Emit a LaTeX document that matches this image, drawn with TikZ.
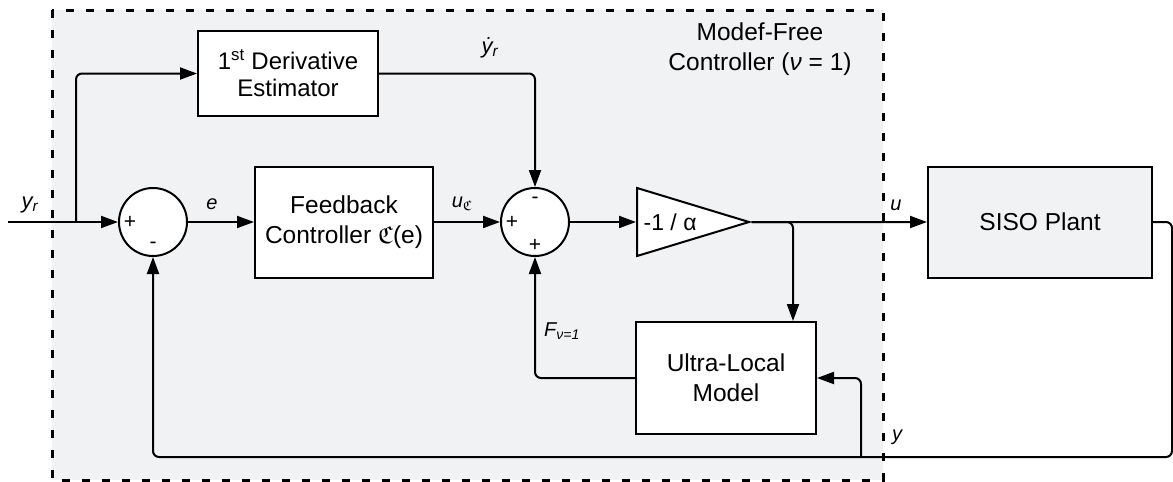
\documentclass[tikz,border=0pt]{standalone}
\usepackage{fontspec}
\setmainfont{Liberation Sans}
\usepackage{amssymb}
\usetikzlibrary{arrows.meta,shapes.geometric,calc}
\definecolor{panel}{HTML}{F1F2F4}

\begin{document}
\begin{tikzpicture}[x=1pt,y=-1pt,line width=2pt,
  blk/.style={draw,fill=white,align=center,inner sep=0pt,font=\fontsize{24.5}{30}\selectfont},
  sum/.style={draw,fill=white,circle,minimum size=68pt,inner sep=0pt},
  gainbox/.style={draw,fill=white,isosceles triangle,isosceles triangle stretches,inner sep=2pt,font=\fontsize{23}{27}\selectfont},
  lbl/.style={font=\fontsize{20}{24}\selectfont\itshape},
  sgn/.style={font=\fontsize{21}{24}\selectfont},
  arr/.style={-{Triangle[length=17pt,width=12pt]}},
  wire/.style={rounded corners=6pt}]
\useasboundingbox (0,0) rectangle (1173,482);
% controller panel
\draw[fill=panel,line width=3pt,dash pattern=on 8pt off 12pt] (52,10) rectangle (883,480);
\node[align=center,font=\fontsize{24.5}{30}\selectfont] (title) at (760,49) {Modef-Free\\Controller (\textit{ν} = 1)};
% blocks
\node[blk,minimum width=180pt,minimum height=85pt,font=\fontsize{24}{27}\selectfont] (der) at (288,73.5) {1\textsuperscript{st} Derivative\\Estimator};
\node[sum] (s1) at (153,222) {};
\node[blk,minimum width=178pt,minimum height=111pt] (fb) at (344,222) {Feedback\\Controller $\mathfrak{C}$(e)};
\node[sum] (s2) at (535,222) {};
\node[gainbox,minimum width=65pt,minimum height=112pt,anchor=west] (gain) at (636,222) {-1 / α};
\node[blk,fill=panel,minimum width=224pt,minimum height=111pt] (plant) at (1040,222) {SISO Plant};
\node[blk,minimum width=180pt,minimum height=112pt] (ulm) at (726,378) {Ultra-Local\\Model};
% signs
\node[sgn] (s1a) at ($(s1)+(-23,0)$) {+};
\node[sgn] (s1b) at ($(s1)+(0,23)$) {-};
\node[sgn] (s2a) at ($(s2)+(-23,0)$) {+};
\node[sgn] (s2b) at ($(s2)+(0,-22)$) {-};
\node[sgn] (s2c) at ($(s2)+(0,23)$) {+};
% points on the wires
\coordinate (in) at (8,222);
\coordinate (br1) at (76,222);
\coordinate (br2) at (793,222);
\coordinate (ycor) at (1172,457);
\coordinate (br3) at (861,457);
% forward path
\draw[arr] (in) -- (s1.west);
\draw[wire,arr] (br1) |- (der.west);
\draw[arr] (s1) -- (fb);
\draw[arr] (fb) -- (s2);
\draw[wire,arr] (der.east) -| (s2.north);
\draw[arr] (s2) -- (gain.west);
\draw[arr] (gain.apex) -- (plant.west);
\draw[wire,arr] (gain.apex) -| (br2 |- ulm.north);
% feedback paths
\draw[wire,arr] (plant.east) -| (ycor) -| (s1.south);
\draw[wire,arr] (br3) |- (ulm.east);
\draw[wire,arr] (ulm.west) -| (s2.south);
% signal labels
\node[lbl,font=\fontsize{22}{24}\selectfont\itshape] (lyr) at (30,205) {y\textsubscript{r}};
\node[lbl] (le) at (212,204) {e};
\node[lbl] (luc) at (462,204) {u\textsubscript{$\mathfrak{C}$}};
\node[lbl,font=\fontsize{22}{24}\selectfont\itshape] (ldyr) at (490,48) {\.{y}\textsubscript{r}};
\node[lbl] (lu) at (896,205) {u};
\node[lbl] (ly) at (897,437) {y};
\node[lbl] (lf) at (562,331) {F\textsubscript{ν=1}};
\end{tikzpicture}
\end{document}
